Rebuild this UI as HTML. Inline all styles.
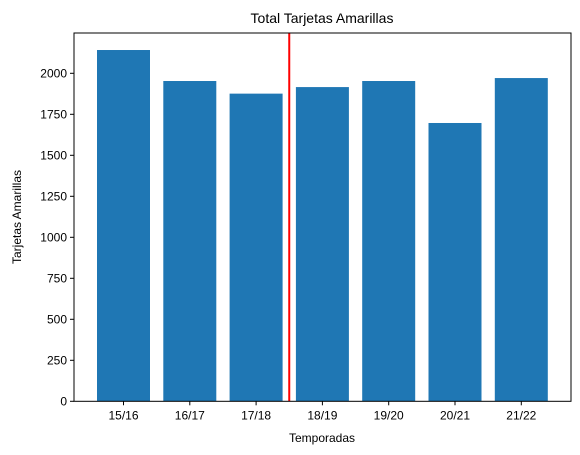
<!DOCTYPE html>
<html><head><meta charset="utf-8"><style>body{margin:0;background:#fff}svg{display:block;font-family:"Liberation Sans",sans-serif}</style></head>
<body>
<svg id="chart" width="580" height="455">
<rect x="0" y="0" width="580" height="455" fill="#fff"/>
<g id="bars"></g><g id="ticks"></g>
<text x="322" y="23" font-size="14" text-anchor="middle">Total Tarjetas Amarillas</text>
<text x="322" y="442" font-size="12" text-anchor="middle">Temporadas</text>
<text transform="translate(21,217) rotate(-90)" font-size="12" text-anchor="middle">Tarjetas Amarillas</text>
</svg>
<script>
const categories=["15/16","16/17","17/18","18/19","19/20","20/21","21/22"];
const values=[2142,1953,1876,1916,1953,1697,1971];
const yTicks=[0,250,500,750,1000,1250,1500,1750,2000];
const markerIndex=[2.5];
const NS="http://www.w3.org/2000/svg";
const L=74,R=571,T=33,B=401.3;
const xs=i=>123.5+66.3*i;
const ys=v=>B-v*0.164;
const bars=document.getElementById('bars'),tk=document.getElementById('ticks');
function mk(t,a,p){const e=document.createElementNS(NS,t);for(const k in a)e.setAttribute(k,a[k]);p.appendChild(e);return e;}
categories.forEach((c,i)=>{
 const r=mk('rect',{x:xs(i)-26.5,y:ys(values[i]),width:53,height:B-ys(values[i]),fill:'#1f77b4'},bars);
 
 
 const l=mk('line',{x1:xs(i),x2:xs(i),y1:B,y2:B+4,stroke:'#000'},tk);
 
 
 const t=mk('text',{x:xs(i),y:B+18,'font-size':12,'text-anchor':'middle'},tk);t.textContent=c;
 
 
});
yTicks.forEach(v=>{
 const l=mk('line',{x1:L-4,x2:L,y1:ys(v),y2:ys(v),stroke:'#000'},tk);
 
 
 const t=mk('text',{x:L-7,y:ys(v)+4,'font-size':12,'text-anchor':'end'},tk);t.textContent=v;
 
 
});
markerIndex.forEach(m=>{
 const l=mk('line',{x1:xs(m),x2:xs(m),y1:T,y2:B,stroke:'red','stroke-width':2},bars);
 
 
});
const f=mk('rect',{x:L,y:T,width:R-L,height:B-T,fill:'none',stroke:'#000','stroke-width':1},tk);


</script>
</body></html>
